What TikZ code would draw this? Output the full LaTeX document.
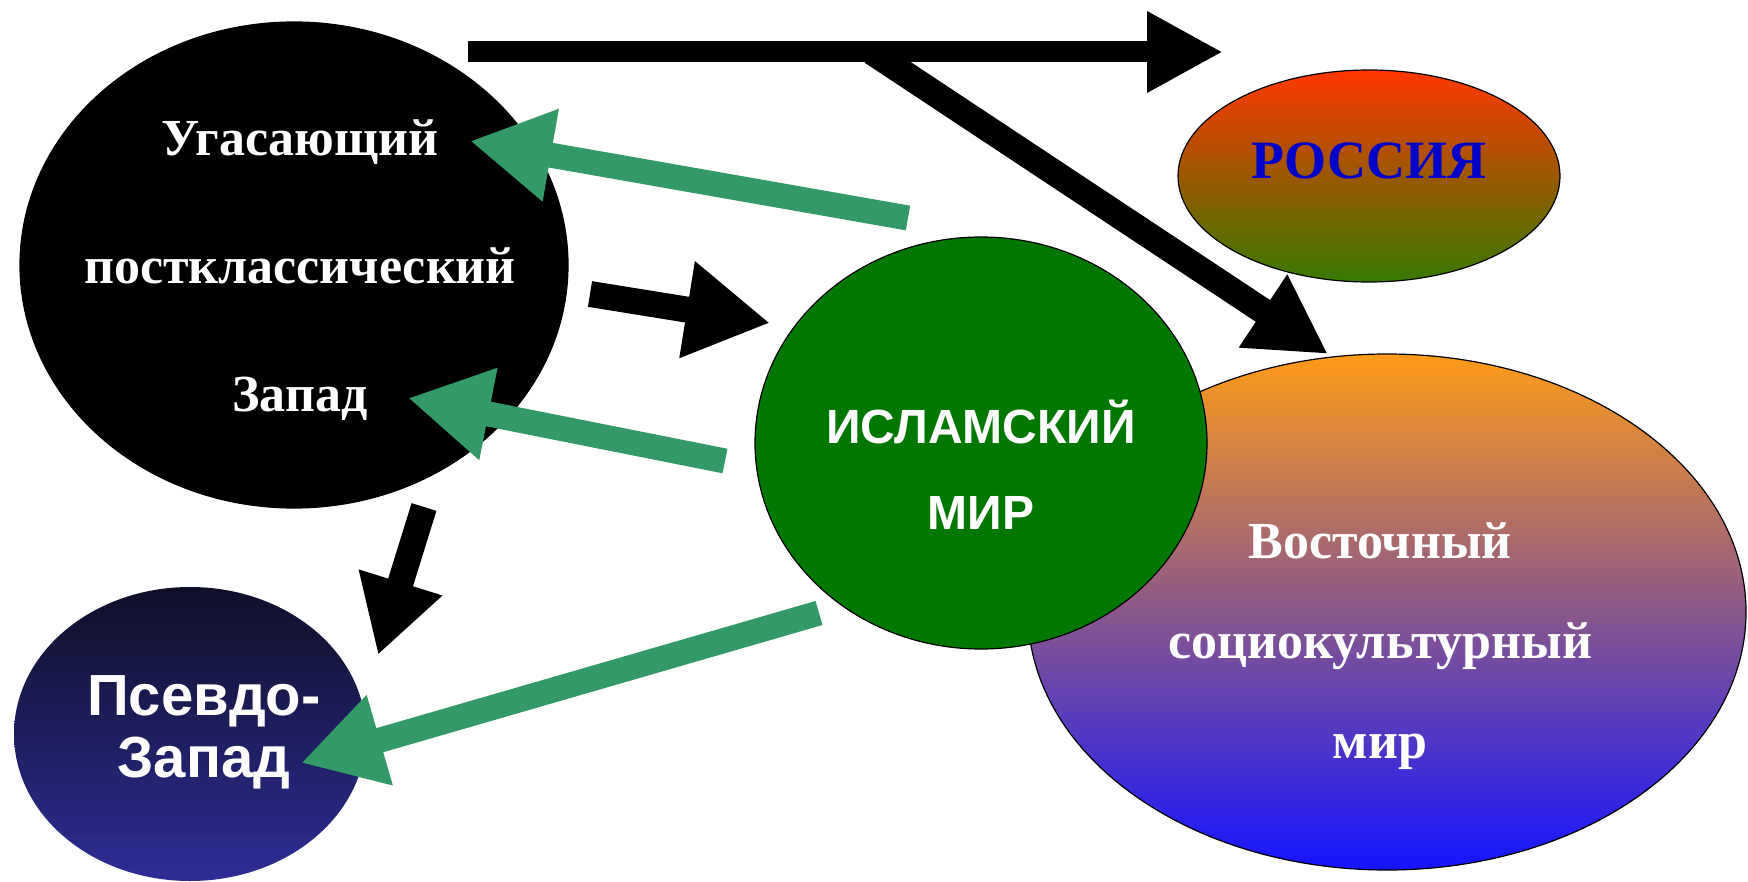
\documentclass[tikz,border=0pt]{standalone}
\usepackage{fontspec}
\setmainfont{Liberation Serif}
\newfontfamily\sansfam{Liberation Sans}
\usetikzlibrary{shapes.geometric,arrows.meta}
\definecolor{arrowgreen}{RGB}{51,153,102}
\definecolor{islamgreen}{RGB}{0,120,0}
\definecolor{rusTop}{RGB}{255,55,0}
\definecolor{rusBot}{RGB}{55,122,0}
\definecolor{eastTop}{RGB}{255,155,25}
\definecolor{eastMid}{RGB}{210,115,185}
\definecolor{eastBot}{RGB}{20,20,255}
\definecolor{psTop}{RGB}{15,15,40}
\definecolor{psBot}{RGB}{45,45,150}
\definecolor{rusText}{RGB}{0,0,200}
\begin{document}
\begin{tikzpicture}[x=0.5pt,y=-0.5pt,
  blob/.style={ellipse, inner sep=0pt, draw=black, line width=0.6pt},
  serifw/.style={text=white, align=center, inner sep=0pt},
  sansw/.style={text=white, align=center, inner sep=0pt},
  head/.style={-{Triangle[length=38pt,width=38pt]}},
  bighead/.style={-{Triangle[length=41pt,width=44pt]}},
  blackarr/.style={draw=black},
  greenarr/.style={draw=arrowgreen, line width=12.5pt, bighead}
]
\useasboundingbox (0,0) rectangle (1748,882);
\fill[white] (0,0) rectangle (1748,882);

% ellipses
\node[blob, minimum width=359pt, minimum height=258pt, top color=eastTop, middle color=eastMid, bottom color=eastBot] (east) at (1387,612) {};
\node[blob, minimum width=226pt, minimum height=206pt, fill=islamgreen] (islam) at (981,443) {};
\node[blob, minimum width=274pt, minimum height=243pt, fill=black] (west) at (294,265) {};
\node[ellipse, inner sep=0pt, minimum width=176pt, minimum height=147pt, top color=psTop, bottom color=psBot] (pseudo) at (190,734) {};
\node[blob, minimum width=191pt, minimum height=106pt, top color=rusTop, bottom color=rusBot] (russia) at (1369,176) {};

% texts
\node[serifw, font=\fontsize{26}{64}\selectfont\bfseries] (westtext) at (300,270) {Угасающий\\постклассический\\Запад};
\node[inner sep=0pt, text=rusText, font=\fontsize{27}{32}\selectfont\bfseries] (rustext) at (1369,161) {РОССИЯ};
\node[sansw, font=\fontsize{24}{43}\selectfont\sansfam\bfseries] (islamtext) at (981,465) {ИСЛАМСКИЙ\\МИР};
\node[serifw, font=\fontsize{26}{50}\selectfont\bfseries] (easttext) at (1380,646) {Восточный\\социокультурный\\мир};
\node[sansw, font=\fontsize{29}{31}\selectfont\sansfam\bfseries] (pstext) at (204,732) {Псевдо-\\Запад};

% arrow end points
\coordinate (hS) at (468,52);
\coordinate (hT) at (1223,52);
\coordinate (dS) at (872,52);
\coordinate (dT) at (1328,354);
\coordinate (wiS) at (590,294);
\coordinate (wiT) at (770,323);
\coordinate (wpS) at (424,507);
\coordinate (wpT) at (378,655);
\coordinate (g1S) at (908,218);
\coordinate (g1T) at (470,141);
\coordinate (g2S) at (725,461);
\coordinate (g2T) at (408,398);
\coordinate (g3S) at (819,613);
\coordinate (g3T) at (301,763);

% black arrows
\draw[blackarr, line width=13pt, -{Triangle[length=39pt,width=41pt]}] (dS) -- (dT);
\draw[blackarr, line width=10.5pt, head] (hS) -- (hT);
\draw[blackarr, line width=13pt, -{Triangle[length=42pt,width=46pt]}] (wiS) -- (wiT);
\draw[blackarr, line width=13pt, -{Triangle[length=38pt,width=41pt]}] (wpS) -- (wpT);

% green arrows
\draw[greenarr] (g1S) -- (g1T);
\draw[greenarr] (g2S) -- (g2T);
\draw[greenarr] (g3S) -- (g3T);
\end{tikzpicture}
\end{document}
